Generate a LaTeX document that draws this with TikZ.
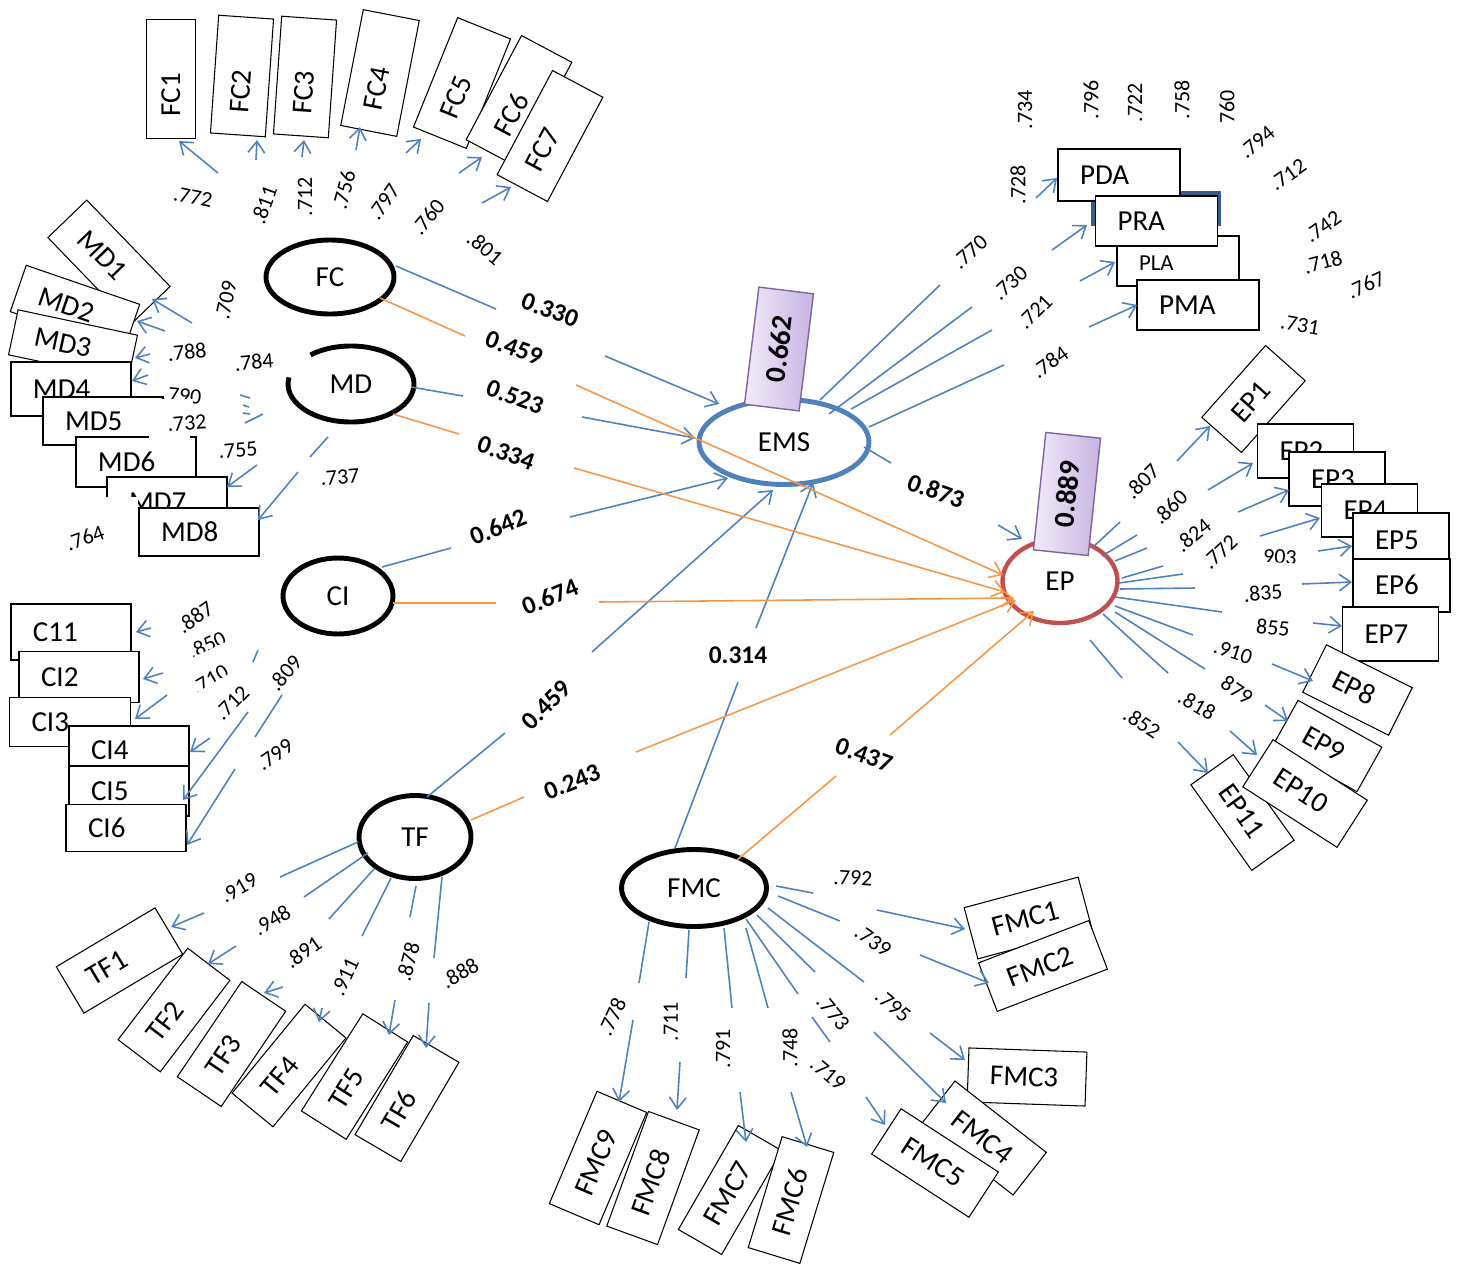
\documentclass[tikz,border=0pt]{standalone}
\usepackage{fontspec}
\setmainfont{Carlito}
\usetikzlibrary{arrows.meta,shapes.geometric}
\definecolor{cblue}{HTML}{4F81BD}
\definecolor{corange}{HTML}{F79646}
\definecolor{cred}{HTML}{C0504D}
\definecolor{cpurp}{HTML}{8064A2}
\definecolor{lavA}{HTML}{F1EBF9}
\definecolor{lavB}{HTML}{C8B4E3}
\definecolor{navy}{HTML}{385D8A}
% indicator box: name, text, x, y, angle, length (px), thickness (px)
\newcommand{\indbox}[7]{%
  \pgfmathsetmacro\indtw{(#6-44)*0.02}%
  \pgfmathsetmacro\indht{#7*0.02}%
  \node[ind, rotate=#5, text width=\indtw cm, minimum height=\indht cm] (#1) at (#3,#4) {#2};}
\begin{document}
\begin{tikzpicture}[x=0.02cm,y=-0.02cm,
  ind/.style={draw=black, fill=white, line width=0.6pt, inner xsep=0.44cm, inner ysep=0pt,
    align=left, text height=1.05em, text depth=0pt, font=\fontsize{16.5}{19}\selectfont},
  lat/.style={ellipse, draw=black, line width=2.8pt, inner sep=0pt, font=\fontsize{16.5}{19}\selectfont},
  ld/.style={inner sep=0.5pt, font=\fontsize{12.5}{14}\selectfont},
  pc/.style={inner sep=0.5pt, font=\bfseries\fontsize{14.5}{17}\selectfont},
  bl/.style={draw=cblue, line width=0.9pt},
  ol/.style={draw=corange, line width=0.9pt},
  tipb/.style={-{Straight Barb[length=6.5pt,width=9.5pt]}},
  rsq/.style={draw=cpurp, line width=0.8pt, left color=lavA, right color=lavB,
    minimum width=2.36cm, minimum height=1.1cm, inner sep=0pt, font=\bfseries\fontsize{16.5}{19}\selectfont},
  cover/.style={fill=white, draw=none, inner sep=0pt}
]
\useasboundingbox (0,0) rectangle (1457,1268);

% ---------- indicator boxes ----------
% FC
\indbox{FC1}{FC1}{171}{79}{90}{119}{49}
\indbox{FC2}{FC2}{242}{76}{86}{118}{55}
\indbox{FC3}{FC3}{305}{77}{86}{118}{55}
\indbox{FC4}{FC4}{380}{73}{79}{118}{57}
\indbox{FC5}{FC5}{462}{83}{68}{118}{57}
\indbox{FC6}{FC6}{519}{101}{62}{118}{57}
\indbox{FC7}{FC7}{550}{136}{62}{118}{57}
% MD
\indbox{MD1}{MD1}{109}{262}{-46}{120}{54}
\indbox{MD2}{MD2}{75}{308}{-19}{120}{49}
\indbox{MD3}{MD3}{73}{345}{-12}{122}{46}
\indbox{MD4}{MD4}{71}{389}{0}{120}{54}
\indbox{MD5}{MD5}{103}{421}{0}{120}{48}
\node[ld, rotate=-5] (l790) at (182,396) {.790};
\fill[cover] (149,399) rectangle (193,451);
\indbox{MD6}{MD6}{136}{462}{0}{120}{50}
\fill[cover] (149,436) rectangle (190,450);
\indbox{MD7}{MD7}{167}{502}{0}{120}{50}
\fill[cover] (102,497) rectangle (138,530);
\indbox{MD8}{MD8}{199}{532}{0}{120}{48}
% CI
\indbox{CI1}{C11}{71}{632}{0}{120}{56}
\indbox{CI2}{CI2}{79}{677}{0}{120}{51}
\indbox{CI3}{CI3}{70}{722}{0}{121}{49}
\indbox{CI4}{CI4}{129}{750}{0}{120}{48}
\indbox{CI5}{CI5}{129}{791}{0}{120}{50}
\indbox{CI6}{CI6}{126}{828}{0}{120}{47}
% TF
\indbox{TF1}{TF1}{119.5}{960.5}{30.8}{115}{54}
\indbox{TF2}{TF2}{174}{1010}{52.7}{115}{53}
\indbox{TF3}{TF3}{231.5}{1044}{55.9}{115}{53}
\indbox{TF4}{TF4}{289}{1065.5}{50.6}{115}{53}
\indbox{TF5}{TF5}{354.5}{1076.5}{57.7}{115}{53}
\indbox{TF6}{TF6}{407}{1098.5}{59.6}{115}{53}
% FMC
\indbox{FMC9}{FMC9}{598}{1158}{67}{122}{54}
\indbox{FMC8}{FMC8}{653}{1178}{70}{122}{54}
\indbox{FMC7}{FMC7}{730}{1190}{60}{120}{50}
\indbox{FMC6}{FMC6}{791}{1200}{73}{116}{54}
\indbox{FMC1}{FMC1}{1028}{918}{15}{118}{53}
\indbox{FMC2}{FMC2}{1043}{966}{21}{118}{52}
\indbox{FMC3}{FMC3}{1027}{1077}{-2}{118}{54}
\indbox{FMC4}{FMC4}{984}{1138}{-38}{116}{54}
\indbox{FMC5}{FMC5}{935}{1163}{-33}{116}{54}
% EP
\indbox{EP1}{EP1}{1253.5}{399}{48.4}{96}{53}
\indbox{EP2}{EP2}{1305.5}{451}{0}{96}{54}
\indbox{EP3}{EP3}{1337}{479}{0}{96}{54}
\indbox{EP4}{EP4}{1369.5}{510.5}{0}{96}{53}
\indbox{EP5}{EP5}{1401}{540}{0}{96}{54}
\indbox{EP6}{EP6}{1401.5}{585.5}{0}{97}{53}
\indbox{EP7}{EP7}{1390.5}{634}{0}{96}{54}
\indbox{EP11}{EP11}{1242.5}{812.5}{-54.6}{105}{52}
\indbox{EP8}{EP8}{1357.5}{690}{-26.6}{96}{53}
\indbox{EP9}{EP9}{1327.5}{746}{-29.2}{96}{51}
\indbox{EP10}{EP10}{1305}{793.5}{-32.7}{112}{56}
% EMS indicators
\draw[navy, line width=2pt] (1093,226) -- (1093,193) -- (1219,193) -- (1219,226);
\indbox{PDA}{PDA}{1119}{175}{0}{122}{52}
\node[ind, text width=1.56cm, minimum height=1.0cm, font=\fontsize{13}{15}\selectfont] (PLA) at (1178,261) {PLA};
\indbox{PRA}{PRA}{1156.5}{221}{0}{122}{50}
\indbox{PMA}{PMA}{1198}{305}{0}{122}{50}

% ---------- latent variables ----------
\node[lat, minimum width=2.56cm, minimum height=1.48cm] (FC) at (330,277) {FC};
\node[lat, draw=none, minimum width=2.52cm, minimum height=1.52cm] (MD) at (351,384) {MD};
\draw[line width=2.8pt] (351,384) ++(-130:63 and 38) arc[start angle=-130, end angle=190, x radius=63, y radius=38];
\node[lat, minimum width=2.2cm, minimum height=1.52cm] (CI) at (338,596) {CI};
\node[lat, minimum width=2.24cm, minimum height=1.66cm] (TF) at (415,837) {TF};
\node[lat, minimum width=2.9cm, minimum height=1.54cm] (FMC) at (694,888) {FMC};
\node[lat, draw=cblue, minimum width=3.4cm, minimum height=1.7cm] (EMS) at (784,442) {EMS};
\node[lat, draw=cred, line width=2.5pt, minimum width=2.3cm, minimum height=1.68cm] (EP) at (1060,581) {EP};

% ---------- measurement paths ----------
% FC
\foreach \a/\b/\c/\d in {218/173/179/141, 256/160/257/140, 302/157/304/140, 356/150/360/127,
  406/153/421/139, 459/173/482/157, 482/203/511/187}
  \draw[bl,tipb] (\a,\b) -- (\c,\d);
% MD
\foreach \a/\b/\c/\d in {192/323/152/299, 165/331/137/321, 150/354/135/358, 148/375/132/381,
  257/465/227/487, 298/472/258/520}
  \draw[bl,tipb] (\a,\b) -- (\c,\d);
\foreach \a/\b/\c/\d in {240/395/250/398, 243/405/249/407, 243/413/250/414, 245/423/263/414, 328/437/310/457}
  \draw[bl] (\a,\b) -- (\c,\d);
% CI
\foreach \a/\b/\c/\d in {151/628/136/632, 163/673/143/679, 167/695/135/719, 210/738/190/752,
  248/712/183/800, 235/769/187/845}
  \draw[bl,tipb] (\a,\b) -- (\c,\d);
\foreach \a/\b/\c/\d in {258/650/253/662, 282/695/255/737}
  \draw[bl] (\a,\b) -- (\c,\d);
% TF
\foreach \a/\b/\c/\d in {358/842/280/877, 368/853/304/897, 374/869/329/919, 391/878/362/936,
  416/886/410/917, 442/877/434/958}
  \draw[bl] (\a,\b) -- (\c,\d);
\foreach \a/\b/\c/\d in {204/913/171/927, 236/946/208/964, 283/987/264/993, 322/1008/319/1022,
  395/1000/389/1035, 429/1003/426/1048}
  \draw[bl,tipb] (\a,\b) -- (\c,\d);
% FMC
\foreach \a/\b/\c/\d in {776/886/813/893, 778/896/840/921, 768/908/864/982, 757/915/815/972,
  746/919/798/994, 812/1017/830/1042, 746/928/768/1008, 724/928/732/1008, 689/930/686/978, 649/922/639/983}
  \draw[bl] (\a,\b) -- (\c,\d);
\foreach \a/\b/\c/\d in {877/910/965/929, 920/955/989/983, 930/1033/965/1060, 874/1032/946/1103,
  866/1097/885/1125, 791/1092/807/1147, 740/1092/746/1142, 680/1062/677/1110, 633/1020/619/1102}
  \draw[bl,tipb] (\a,\b) -- (\c,\d);
% EP
\foreach \a/\b/\c/\d in {1093/547/1120/522, 1102/556/1137/535, 1115/561/1147/548, 1122/578/1163/566,
  1119/583/1183/574, 1120/589/1195/588, 1115/597/1222/612, 1115/606/1193/635, 1115/612/1205/669,
  1103/614/1168/673, 1090/640/1122/678}
  \draw[bl] (\a,\b) -- (\c,\d);
\foreach \a/\b/\c/\d in {1177/461/1210/426, 1208/490/1253/463, 1238/512/1289/490, 1260/536/1320/518,
  1318/551/1352/546, 1302/584/1352/582, 1313/623/1342/626, 1272/664/1313/681, 1265/705/1288/721,
  1230/731/1257/755, 1178/742/1208/773}
  \draw[bl,tipb] (\a,\b) -- (\c,\d);
% EMS
\foreach \a/\b/\c/\d in {820/400/940/285, 829/414/972/307, 851/409/992/330, 869/427/1004/365}
  \draw[bl] (\a,\b) -- (\c,\d);
\foreach \a/\b/\c/\d in {1036/198/1057/178, 1052/250/1087/225, 1080/281/1115/262, 1089/327/1137/305}
  \draw[bl,tipb] (\a,\b) -- (\c,\d);

% ---------- structural paths ----------
\foreach \a/\b/\c/\d in {396/266/496/309, 411/387/463/396, 382/567/451/548, 427/797/505/733,
  675/848/738/682, 864/447/891/463}
  \draw[bl] (\a,\b) -- (\c,\d);
\foreach \a/\b/\c/\d in {605/356/719/404, 582/417/695/438, 570/517/728/478, 592/652/773/490,
  756/628/813/483, 998/525/1022/539}
  \draw[bl,tipb] (\a,\b) -- (\c,\d);
\foreach \a/\b/\c/\d in {380/298/465/336, 393/414/459/434, 393/603/496/603, 471/820/524/797, 737/860/836/776}
  \draw[ol] (\a,\b) -- (\c,\d);
\foreach \a/\b/\c/\d in {576/385/1003/575, 574/468/1005/592, 599/602/1014/598, 636/752/1016/600, 890/735/1034/611}
  \draw[ol,tipb] (\a,\b) -- (\c,\d);

% ---------- loadings ----------
\foreach \x/\y/\r/\t [count=\i] in {
  193/197/-11/.772, 264/205/70/.811, 305/197/90/.712, 344/190/75/.756, 384/202/55/.797, 428/217/50/.760, 485/248/-40/.801,
  226/300/78/.709, 187/352/5/.788, 254/362/5/.784, 187/423/5/.732, 238/450/5/.755, 340/477/5/.737, 85/538/20/.764,
  195/617/35/.887, 207/645/25/.850, 210/680/30/.710, 232/703/45/.712, 285/673/50/.809, 275/755/35/.799,
  239/888/30/.919, 272/920/30/.948, 303/952/35/.891, 345/977/65/.911, 408/962/75/.878, 460/973/30/.888,
  853/878/-3/.792, 873/941/-35/.739, 893/1006/-40/.795, 833/1013/-50/.773, 828/1074/-40/.719,
  612/1017/65/.778, 671/1022/90/.711, 723/1049/90/.791, 790/1048/90/.748,
  970/252/42/.770, 1010/283/42/.730, 1035/312/45/.721, 1050/362/35/.784,
  1025/110/90/.734, 1091/100/90/.796, 1135/103/90/.722, 1182/100/90/.758, 1227/107/90/760,
  1257/142/40/.794, 1288/175/35/.712, 1323/227/35/.742, 1323/262/15/.718, 1366/285/25/.767,
  1300/325/-10/.731, 1018/185/90/.728,
  1142/481/45/.807, 1170/507/44/.860, 1193/535/39/.824, 1220/552/43/.772, 1280/557/-3/903,
  1263/593/5/.835, 1273/628/-5/855, 1233/652/-18/.910, 1237/690/-34/879, 1197/705/-30/.818, 1142/723/-34/.852}
  \node[ld, rotate=\r] (ld\i) at (\x,\y) {\t};
% partly hidden loadings
\node[cover, rotate=25, anchor=north, minimum width=0.95cm, minimum height=0.3cm] (cv1) at ([yshift=-3pt]ld16.center) {};
\node[cover, rotate=30, anchor=north, minimum width=0.95cm, minimum height=0.3cm] (cv2) at ([yshift=-2.5pt]ld17.center) {};
\node[cover, rotate=15, anchor=north, minimum width=0.5cm, minimum height=0.2cm] (cv3) at ([xshift=6pt,yshift=-4pt]ld48.center) {};
\node[cover, rotate=-3, anchor=north, minimum width=0.95cm, minimum height=0.25cm] (cv4) at ([yshift=-3pt]ld56.center) {};

% ---------- path coefficients ----------
\foreach \x/\y/\r/\t [count=\i] in {
  550/310/-20/0.330, 514/348/-20/0.459, 515/397/-20/0.523, 506/453/-20/0.334,
  498/527/22/0.642, 550/597/22/0.674, 546/705/45/0.459, 572/782/22/0.243,
  738/655/0/0.314, 864/755/-20/0.437, 936/491/-20/0.873}
  \node[pc, rotate=\r] (pc\i) at (\x,\y) {\t};

% ---------- explained variance ----------
\node[rsq, rotate=83] (R2EMS) at (779,349) {0.662};
\node[rsq, rotate=84] (R2EP) at (1067,494) {0.889};
\end{tikzpicture}
\end{document}
